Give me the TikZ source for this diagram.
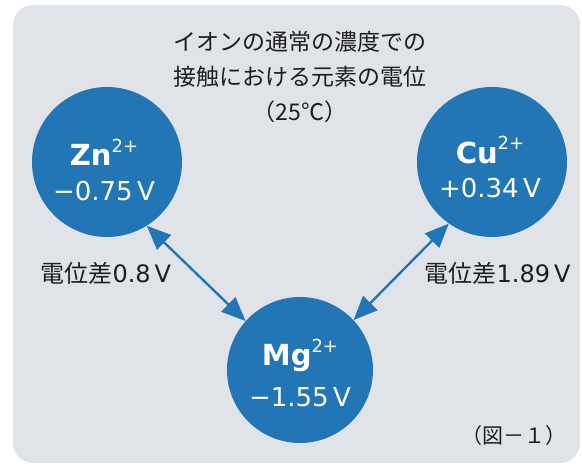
\documentclass[tikz,border=0pt]{standalone}
\usepackage{fontspec}
\setmainfont{Noto Sans CJK JP}
\newfontfamily\numfont{DejaVu Sans}
\usetikzlibrary{arrows.meta}
\definecolor{ionblue}{RGB}{35,118,182}
\definecolor{panelgray}{RGB}{224,228,233}
\definecolor{inkdark}{RGB}{30,30,30}
\newcommand{\ionsup}[1]{\raisebox{0.45em}{\fontsize{18}{18}\selectfont\mdseries #1}}
\newcommand{\volt}[1]{#1\,V}

\begin{document}
\begin{tikzpicture}[x=1pt,y=-1pt,
  ion/.style={circle,fill=ionblue,minimum size=150pt,inner sep=0pt},
  ionname/.style={text=white,font=\numfont\bfseries\fontsize{29}{32}\selectfont},
  ionval/.style={text=white,font=\numfont\fontsize{26}{30}\selectfont},
  potarrow/.style={{Triangle[length=24pt,width=20pt]}-{Triangle[length=24pt,width=20pt]},line width=2.4pt,ionblue},
  jptext/.style={text=inkdark,font=\fontsize{23}{35}\selectfont}]
\useasboundingbox (0,0) rectangle (582,467);
\fill[white] (0,0) rectangle (582,467);
% Panel
\fill[panelgray,rounded corners=20pt] (13,5) rectangle (580,463);
% Title
\node[jptext,align=center] (title) at (300,77) {イオンの通常の濃度での\\接触における元素の電位\\（25℃）};
% Ions
\node[ion] (zn) at (107,162) {};
\node[ionname] (zn-name) at (104,152) {Zn\ionsup{2+}};
\node[ionval] (zn-val) at (104,191) {\volt{−0.75}};
\node[ion] (cu) at (492,162) {};
\node[ionname] (cu-name) at (490,150) {Cu\ionsup{2+}};
\node[ionval] (cu-val) at (490,188) {\volt{+0.34}};
\node[ion,minimum size=146pt] (mg) at (300,370) {};
\node[ionname] (mg-name) at (300,355) {Mg\ionsup{2+}};
\node[ionval] (mg-val) at (300,397) {\volt{−1.55}};
% Potential differences
\draw[potarrow] (zn.-58) -- (mg.138);
\draw[potarrow] (cu.235) -- (mg.43);
\node[jptext,font=\fontsize{24}{30}\selectfont,anchor=west] (dzn) at (37,273) {電位差{\numfont\volt{0.8}}};
\node[jptext,font=\fontsize{24}{30}\selectfont,anchor=east] (dcu) at (574,273) {電位差{\numfont\volt{1.89}}};
% Caption
\node[jptext,font=\fontsize{21}{25}\selectfont,anchor=east] (fig) at (570,436) {（図－１）};
\end{tikzpicture}
\end{document}
